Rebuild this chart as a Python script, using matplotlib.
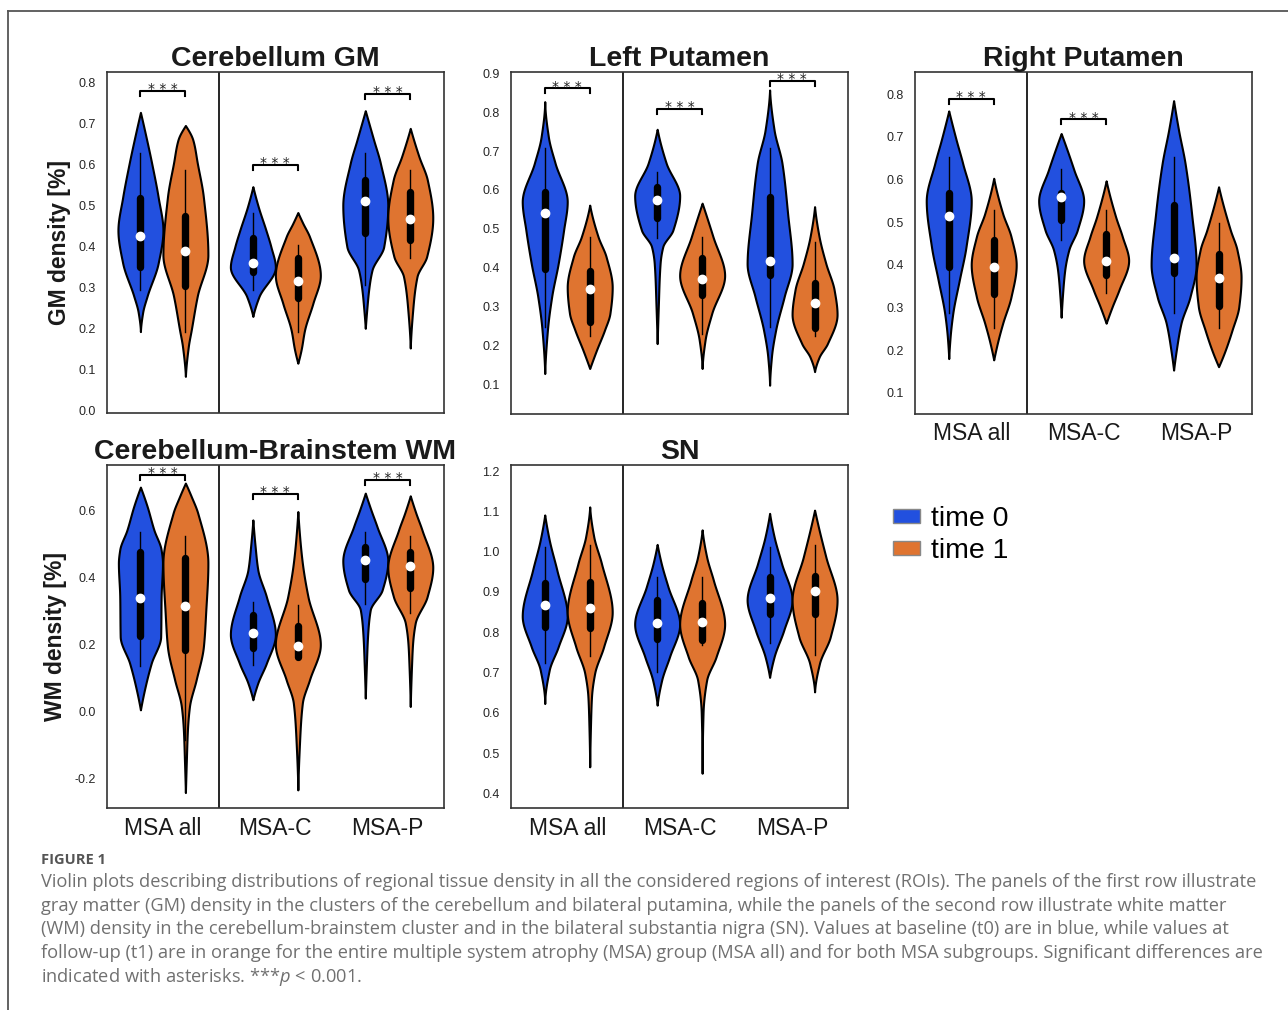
import numpy as np
import matplotlib
matplotlib.use("Agg")
import matplotlib.pyplot as plt
from matplotlib.patches import Patch
from matplotlib.lines import Line2D
from matplotlib.ticker import FormatStrFormatter
from matplotlib import font_manager

# ---------------- data ----------------
groups = ["MSA all", "MSA-C", "MSA-P"]
times = ["time 0", "time 1"]
colors = ["#2250df", "#df7430"]

# violin order in every panel: MSA all t0, MSA all t1, MSA-C t0, MSA-C t1, MSA-P t0, MSA-P t1
# box stats: lower whisker, Q1, median, Q3, upper whisker
cgm_box = [(0.295, 0.350, 0.427, 0.518, 0.627), (0.193, 0.304, 0.389, 0.475, 0.587),
           (0.295, 0.337, 0.359, 0.420, 0.481), (0.193, 0.274, 0.317, 0.372, 0.404),
           (0.307, 0.434, 0.512, 0.562, 0.627), (0.372, 0.416, 0.467, 0.534, 0.587)]
# outline: density levels (ys) and relative half-widths (ws)
cgm_ys = [[0.193, 0.24, 0.28, 0.36, 0.44, 0.52, 0.603, 0.684, 0.727],
          [0.084, 0.157, 0.197, 0.28, 0.38, 0.52, 0.603, 0.66, 0.695],
          [0.23, 0.278, 0.35, 0.40, 0.44, 0.497, 0.546],
          [0.116, 0.15, 0.197, 0.262, 0.33, 0.424, 0.457, 0.483],
          [0.201, 0.25, 0.295, 0.343, 0.40, 0.50, 0.603, 0.66, 0.731],
          [0.153, 0.24, 0.327, 0.376, 0.47, 0.562, 0.62, 0.688]]
cgm_ws = [[0, 0.10, 0.30, 0.79, 1.0, 0.79, 0.50, 0.18, 0],
          [0, 0.13, 0.26, 0.53, 1.0, 0.80, 0.53, 0.33, 0],
          [0, 0.27, 1.0, 0.80, 0.58, 0.24, 0],
          [0, 0.15, 0.30, 0.67, 1.0, 0.52, 0.22, 0],
          [0, 0.07, 0.15, 0.30, 0.82, 1.0, 0.67, 0.37, 0],
          [0, 0.10, 0.30, 0.73, 1.0, 0.76, 0.38, 0]]
cgm_sig = [(0, 0.780), (1, 0.599), (2, 0.772)]

lp_box = [(0.248, 0.398, 0.540, 0.596, 0.707), (0.224, 0.261, 0.345, 0.392, 0.480),
          (0.476, 0.527, 0.574, 0.608, 0.647), (0.230, 0.330, 0.370, 0.426, 0.480),
          (0.248, 0.381, 0.418, 0.583, 0.707), (0.224, 0.246, 0.310, 0.360, 0.467)]
lp_ys = [[0.128, 0.24, 0.326, 0.411, 0.497, 0.57, 0.669, 0.737, 0.827],
         [0.141, 0.188, 0.24, 0.283, 0.35, 0.428, 0.48, 0.561],
         [0.205, 0.30, 0.411, 0.454, 0.497, 0.585, 0.669, 0.756],
         [0.141, 0.214, 0.283, 0.38, 0.48, 0.566],
         [0.098, 0.17, 0.24, 0.326, 0.41, 0.54, 0.669, 0.754, 0.857],
         [0.133, 0.17, 0.205, 0.28, 0.343, 0.411, 0.48, 0.557]]
lp_ws = [[0, 0.12, 0.31, 0.60, 0.84, 1.0, 0.46, 0.16, 0],
         [0, 0.30, 0.66, 0.90, 1.0, 0.73, 0.37, 0],
         [0, 0.05, 0.13, 0.25, 0.70, 1.0, 0.40, 0],
         [0, 0.13, 0.43, 1.0, 0.48, 0],
         [0, 0.08, 0.27, 0.65, 1.0, 0.80, 0.55, 0.20, 0],
         [0, 0.20, 0.57, 1.0, 0.87, 0.50, 0.20, 0]]
lp_sig = [(0, 0.861), (1, 0.808), (2, 0.881)]

rp_box = [(0.286, 0.394, 0.515, 0.569, 0.654), (0.251, 0.331, 0.396, 0.458, 0.529),
          (0.458, 0.504, 0.558, 0.569, 0.624), (0.333, 0.376, 0.410, 0.472, 0.529),
          (0.286, 0.380, 0.417, 0.540, 0.654), (0.251, 0.303, 0.368, 0.425, 0.497)]
rp_ys = [[0.18, 0.23, 0.286, 0.364, 0.443, 0.55, 0.638, 0.693, 0.761],
         [0.177, 0.22, 0.263, 0.325, 0.40, 0.466, 0.52, 0.603],
         [0.277, 0.33, 0.388, 0.435, 0.482, 0.55, 0.622, 0.708],
         [0.263, 0.302, 0.341, 0.41, 0.466, 0.513, 0.597],
         [0.153, 0.20, 0.263, 0.325, 0.40, 0.52, 0.638, 0.716, 0.785],
         [0.161, 0.20, 0.247, 0.302, 0.37, 0.435, 0.482, 0.583]]
rp_ws = [[0, 0.06, 0.18, 0.47, 0.77, 1.0, 0.62, 0.33, 0],
         [0, 0.18, 0.40, 0.77, 1.0, 0.77, 0.40, 0],
         [0, 0.06, 0.16, 0.34, 0.72, 1.0, 0.57, 0],
         [0, 0.27, 0.57, 1.0, 0.72, 0.42, 0],
         [0, 0.12, 0.33, 0.73, 1.0, 0.80, 0.51, 0.22, 0],
         [0, 0.30, 0.60, 0.90, 1.0, 0.82, 0.52, 0]]
rp_sig = [(0, 0.788), (1, 0.741)]

wm_box = [(0.136, 0.224, 0.338, 0.475, 0.537), (-0.085, 0.184, 0.316, 0.458, 0.524),
          (0.139, 0.189, 0.234, 0.289, 0.328), (0.164, 0.164, 0.196, 0.256, 0.318),
          (0.321, 0.395, 0.451, 0.490, 0.537), (0.294, 0.370, 0.433, 0.475, 0.524)]
wm_ys = [[0.005, 0.065, 0.144, 0.224, 0.343, 0.443, 0.483, 0.542, 0.612, 0.67],
         [-0.242, -0.15, -0.055, 0.015, 0.095, 0.194, 0.294, 0.443, 0.592, 0.642, 0.682],
         [0.035, 0.085, 0.144, 0.23, 0.343, 0.423, 0.493, 0.572],
         [-0.234, -0.10, 0.025, 0.095, 0.20, 0.343, 0.443, 0.522, 0.597],
         [0.04, 0.144, 0.224, 0.303, 0.363, 0.45, 0.552, 0.602, 0.652],
         [0.015, 0.144, 0.20, 0.264, 0.343, 0.43, 0.542, 0.592, 0.644]]
wm_ws = [[0, 0.18, 0.48, 0.90, 0.92, 0.98, 0.92, 0.60, 0.30, 0],
         [0, 0.04, 0.09, 0.18, 0.48, 0.80, 0.90, 1.0, 0.55, 0.26, 0],
         [0, 0.22, 0.60, 1.0, 0.60, 0.22, 0.10, 0],
         [0, 0.07, 0.20, 0.52, 1.0, 0.45, 0.20, 0.08, 0],
         [0, 0.05, 0.10, 0.22, 0.75, 1.0, 0.52, 0.25, 0],
         [0, 0.06, 0.10, 0.22, 0.75, 1.0, 0.52, 0.25, 0]]
wm_sig = [(0, 0.705), (1, 0.649), (2, 0.692)]

sn_box = [(0.723, 0.814, 0.867, 0.921, 1.012), (0.741, 0.810, 0.859, 0.925, 1.016),
          (0.702, 0.782, 0.824, 0.881, 0.938), (0.768, 0.781, 0.826, 0.873, 0.938),
          (0.772, 0.844, 0.884, 0.938, 1.012), (0.743, 0.844, 0.902, 0.940, 1.016)]
sn_ys = [[0.623, 0.706, 0.764, 0.84, 0.954, 1.029, 1.091],
         [0.466, 0.58, 0.64, 0.698, 0.764, 0.85, 0.971, 1.037, 1.111],
         [0.619, 0.681, 0.739, 0.82, 0.913, 0.971, 1.018],
         [0.45, 0.60, 0.681, 0.739, 0.82, 0.929, 0.987, 1.054],
         [0.688, 0.739, 0.805, 0.88, 0.971, 1.037, 1.095],
         [0.652, 0.723, 0.789, 0.88, 0.987, 1.054, 1.103]]
sn_ws = [[0, 0.20, 0.60, 1.0, 0.54, 0.20, 0],
         [0, 0.04, 0.08, 0.22, 0.62, 1.0, 0.52, 0.18, 0],
         [0, 0.20, 0.55, 1.0, 0.48, 0.18, 0],
         [0, 0.04, 0.20, 0.62, 1.0, 0.50, 0.20, 0],
         [0, 0.20, 0.63, 1.0, 0.53, 0.20, 0],
         [0, 0.22, 0.70, 1.0, 0.50, 0.20, 0]]
sn_sig = []

titles = ["Cerebellum GM", "Left Putamen", "Right Putamen", "Cerebellum-Brainstem WM", "SN"]

caption_head = "FIGURE 1"
caption_lines = [
    "Violin plots describing distributions of regional tissue density in all the considered regions of interest (ROIs). The panels of the first row illustrate",
    "gray matter (GM) density in the clusters of the cerebellum and bilateral putamina, while the panels of the second row illustrate white matter",
    "(WM) density in the cerebellum-brainstem cluster and in the bilateral substantia nigra (SN). Values at baseline (t0) are in blue, while values at",
    "follow-up (t1) are in orange for the entire multiple system atrophy (MSA) group (MSA all) and for both MSA subgroups. Significant differences are",
    r"indicated with asterisks. ***$p$ < 0.001.",
]

# ---------------- helpers ----------------
def pchip(x, y, xn):
    x = np.asarray(x, float); y = np.asarray(y, float)
    h = np.diff(x); d = np.diff(y) / h
    n = len(x); m = np.zeros(n)
    for k in range(1, n - 1):
        if d[k - 1] * d[k] > 0:
            w1 = 2 * h[k] + h[k - 1]; w2 = h[k] + 2 * h[k - 1]
            m[k] = (w1 + w2) / (w1 / d[k - 1] + w2 / d[k])
    def endslope(h0, h1, d0, d1):
        s = ((2 * h0 + h1) * d0 - h0 * d1) / (h0 + h1)
        if np.sign(s) != np.sign(d0):
            s = 0.0
        elif np.sign(d0) != np.sign(d1) and abs(s) > abs(3 * d0):
            s = 3 * d0
        return s
    if n > 2:
        m[0] = endslope(h[0], h[1], d[0], d[1])
        m[-1] = endslope(h[-1], h[-2], d[-1], d[-2])
    else:
        m[:] = d[0]
    idx = np.clip(np.searchsorted(x, xn) - 1, 0, n - 2)
    t = (xn - x[idx]) / h[idx]
    h00 = 2 * t**3 - 3 * t**2 + 1; h10 = t**3 - 2 * t**2 + t
    h01 = -2 * t**3 + 3 * t**2; h11 = t**3 - t**2
    return h00 * y[idx] + h10 * h[idx] * m[idx] + h01 * y[idx + 1] + h11 * h[idx] * m[idx + 1]

plt.rcParams['font.family'] = ['Liberation Sans', 'DejaVu Sans']
W, H = 1288, 1010
fig = plt.figure(figsize=(W / 100, H / 100), dpi=100)

def rect(x0, y0, x1, y1):
    return [x0 / W, 1 - y1 / H, (x1 - x0) / W, (y1 - y0) / H]

panels = [
    dict(box=cgm_box, ys=cgm_ys, ws=cgm_ws, sig=cgm_sig, ylim=(-0.006, 0.826),
         yticks=np.arange(0, 0.81, 0.1), ylabel="GM density [%]", xl=False,
         r=rect(106.7, 71.7, 444, 413.3)),
    dict(box=lp_box, ys=lp_ys, ws=lp_ws, sig=lp_sig, ylim=(0.024, 0.904),
         yticks=np.arange(0.1, 0.91, 0.1), ylabel=None, xl=False,
         r=rect(511, 71.7, 848.3, 414)),
    dict(box=rp_box, ys=rp_ys, ws=rp_ws, sig=rp_sig, ylim=(0.05, 0.853),
         yticks=np.arange(0.1, 0.81, 0.1), ylabel=None, xl=True,
         r=rect(915, 71.7, 1252.3, 414)),
    dict(box=wm_box, ys=wm_ys, ws=wm_ws, sig=wm_sig, ylim=(-0.289, 0.736),
         yticks=np.arange(-0.2, 0.61, 0.2), ylabel="WM density [%]", xl=True,
         r=rect(106.7, 465, 444, 808.3)),
    dict(box=sn_box, ys=sn_ys, ws=sn_ws, sig=sn_sig, ylim=(0.363, 1.215),
         yticks=np.arange(0.4, 1.21, 0.1), ylabel=None, xl=True,
         r=rect(511, 465, 848.3, 808.3)),
]

offset = 0.2
maxhw = 0.2
for p, title in zip(panels, titles):
    ax = fig.add_axes(p['r'])
    ax.set_xlim(-0.5, 2.5)
    ax.set_ylim(*p['ylim'])
    for i in range(6):
        g, t = divmod(i, 2)
        xc = g + (offset if t else -offset)
        ys = p['ys'][i]; ws = p['ws'][i]
        yy = np.linspace(ys[0], ys[-1], 300)
        hw = np.clip(pchip(ys, ws, yy), 0, None) * maxhw
        ax.fill_betweenx(yy, xc - hw, xc + hw, facecolor=colors[t],
                         edgecolor='black', linewidth=1.5, zorder=2)
        lo, q1, med, q3, hi = p['box'][i]
        ax.plot([xc, xc], [lo, hi], color='black', lw=1.0, zorder=3)
        ax.plot([xc, xc], [q1, q3], color='black', lw=5.3,
                solid_capstyle='round', zorder=3)
        ax.plot([xc], [med], 'o', color='white', markersize=6, zorder=4)
    rng = p['ylim'][1] - p['ylim'][0]
    drop = rng * 0.0146
    for g, yb in p['sig']:
        x0, x1 = g - offset, g + offset
        ax.plot([x0, x0, x1, x1], [yb - drop, yb, yb, yb - drop],
                color='black', lw=1.5, zorder=3)
        ax.annotate("* * *", xy=(g, yb), xytext=(0, -1.5), textcoords='offset points',
                    ha='center', va='baseline', fontsize=10, family='DejaVu Sans',
                    color='#222222')
    ax.axvline(0.5, color='black', lw=1.2, zorder=1)
    for s in ax.spines.values():
        s.set_color('#333333'); s.set_linewidth(1.2)
    ax.set_yticks(p['yticks'])
    ax.yaxis.set_major_formatter(FormatStrFormatter('%.1f'))
    ax.tick_params(axis='y', length=0, pad=8, labelsize=9, labelcolor='#262626')
    ax.set_xticks([0, 1, 2])
    if p['xl']:
        ax.set_xticklabels(groups)
        ax.tick_params(axis='x', length=0, pad=6, labelsize=16.5, labelcolor='#1a1a1a')
    else:
        ax.set_xticklabels([])
        ax.tick_params(axis='x', length=0)
    if p['ylabel']:
        ax.set_ylabel(p['ylabel'], fontsize=16.5, fontweight='bold', labelpad=5,
                      color='#1a1a1a')
    ax.set_title(title, fontsize=20.5, fontweight='bold', pad=4, color='#1a1a1a')

# legend
handles = [Patch(facecolor=c, edgecolor='#888888', linewidth=1.0) for c in colors]
fig.legend(handles, times, loc='upper left', bbox_to_anchor=(893 / W, 1 - 506 / H),
           frameon=False, fontsize=20.5, handlelength=0.95, handleheight=0.36,
           handletextpad=0.38, labelspacing=0.22, borderpad=0, borderaxespad=0)

# frame lines of the figure page
fig.add_artist(Line2D([7.5 / W, 7.5 / W], [0, 1 - 10.5 / H], transform=fig.transFigure,
                      color='#555555', lw=1.3))
fig.add_artist(Line2D([7.5 / W, 1], [1 - 10.5 / H, 1 - 10.5 / H], transform=fig.transFigure,
                      color='#555555', lw=1.3))

# caption
names = {f.name for f in font_manager.fontManager.ttflist}
capfont = 'Liberation Sans Narrow' if 'Liberation Sans Narrow' in names else 'Open Sans'
plt.rcParams['mathtext.fontset'] = 'custom'
plt.rcParams['mathtext.it'] = capfont + ':italic'
plt.rcParams['mathtext.rm'] = capfont

fig.text(41 / W, 1 - 864 / H, caption_head, fontsize=10.5, fontweight='bold',
         family=[capfont, 'DejaVu Sans'], color='#555555', va='baseline')
fig.canvas.draw()
renderer = fig.canvas.get_renderer()
probe = fig.text(0, 0, caption_lines[0], fontsize=12, family=[capfont, 'DejaVu Sans'])
wpx = probe.get_window_extent(renderer).width
probe.remove()
capsize = 12 * 1209 / wpx
baselines = [887, 911, 934.5, 958, 981.5]
for line, b in zip(caption_lines, baselines):
    fig.text(41 / W, 1 - b / H, line, fontsize=capsize, family=[capfont, 'DejaVu Sans'],
             color='#707070', va='baseline')

fig.savefig('out.png', dpi=100, facecolor='white')
